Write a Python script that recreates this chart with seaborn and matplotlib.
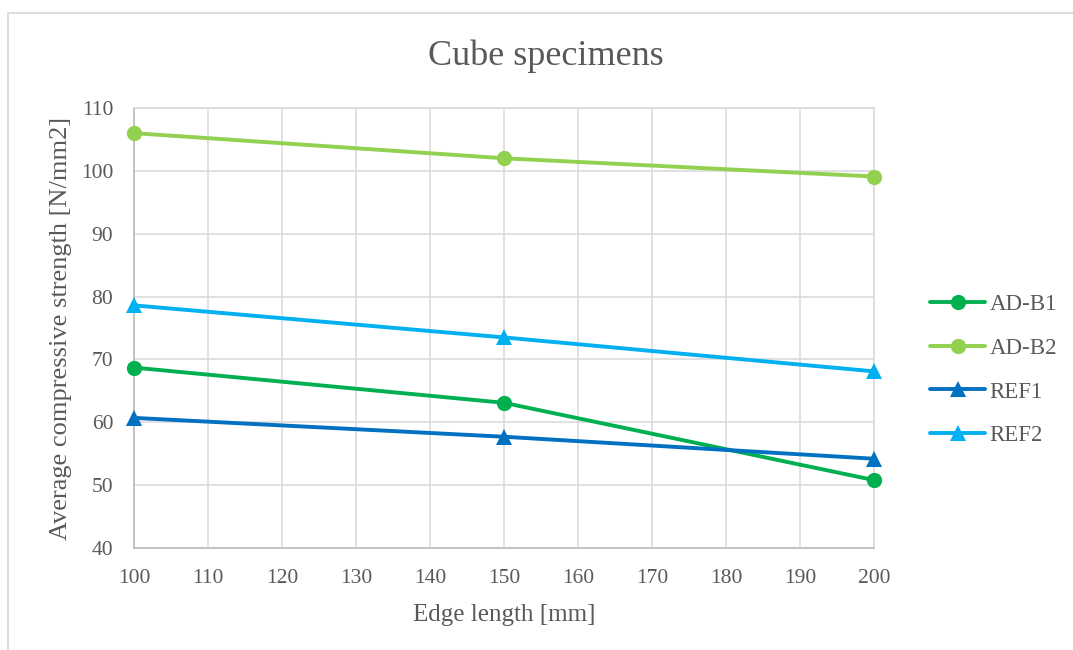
import matplotlib
matplotlib.use("Agg")
import matplotlib.pyplot as plt
import seaborn as sns
import pandas as pd
from matplotlib.patches import Rectangle

edge_length = [100, 150, 200]
ad_b1 = [68.7, 63.1, 50.8]
ad_b2 = [106.0, 102.0, 99.1]
ref1 = [60.7, 57.7, 54.2]
ref2 = [78.6, 73.5, 68.1]
series_names = ["AD-B1", "AD-B2", "REF1", "REF2"]
x_ticks = list(range(100, 201, 10))
y_ticks = list(range(40, 111, 10))

df = pd.DataFrame({
    "Edge length [mm]": edge_length * 4,
    "value": ad_b1 + ad_b2 + ref1 + ref2,
    "series": [s for s in series_names for _ in edge_length],
})

sns.set_theme(style="white")
plt.rcParams['font.family'] = ['Liberation Serif', 'DejaVu Serif']
TXT = "#595959"

fig = plt.figure(figsize=(10.73, 6.5), dpi=100)
fig.patch.set_facecolor("white")
ax = fig.add_axes([134/1073, 1 - 548/650, 740/1073, 440/650])

palette = {"AD-B1": "#00B050", "AD-B2": "#92D050", "REF1": "#0070C0", "REF2": "#00B0F0"}
markers = {"AD-B1": "o", "AD-B2": "o", "REF1": "^", "REF2": "^"}

sns.lineplot(data=df, x="Edge length [mm]", y="value", hue="series", style="series",
             palette=palette, markers=markers, dashes=False, linewidth=2.8,
             markersize=11, markeredgewidth=0, ax=ax, clip_on=False, zorder=3)

ax.set_xlim(100, 200)
ax.set_ylim(40, 110)
ax.set_xticks(x_ticks)
ax.set_yticks(y_ticks)
ax.grid(True, color="#D9D9D9", linewidth=1.1)
ax.set_axisbelow(True)
for side in ["top", "right"]:
    ax.spines[side].set_color("#D9D9D9")
    ax.spines[side].set_linewidth(1.1)
for side in ["left", "bottom"]:
    ax.spines[side].set_color("#BFBFBF")
    ax.spines[side].set_linewidth(1.3)
ax.tick_params(axis="both", length=0, labelsize=15.5, labelcolor=TXT)
ax.tick_params(axis="y", pad=15)
ax.tick_params(axis="x", pad=15)
ax.set_xlabel("Edge length [mm]", fontsize=18, color=TXT, labelpad=12)
ax.set_ylabel("Average compressive strength [N/mm2]", fontsize=19, color=TXT, labelpad=6)

handles, labels = ax.get_legend_handles_labels()
ax.get_legend().remove()
fig.legend(handles, labels, loc="center left", bbox_to_anchor=(930/1073, 1 - 370/650),
           frameon=False, fontsize=16.5, handlelength=2.4, handletextpad=0.2,
           labelspacing=1.0, borderpad=0, borderaxespad=0, labelcolor=TXT)

fig.text(546/1073, 1 - 56/650, "Cube specimens", ha="center", va="center",
         fontsize=26, color=TXT)

fig.patches.append(Rectangle((8/1073, -0.1), 1.2, 1 - 13/650 + 0.1,
                             transform=fig.transFigure, fill=False,
                             edgecolor="#D9D9D9", linewidth=1.3))

fig.savefig("out.png", dpi=100, facecolor="white")
